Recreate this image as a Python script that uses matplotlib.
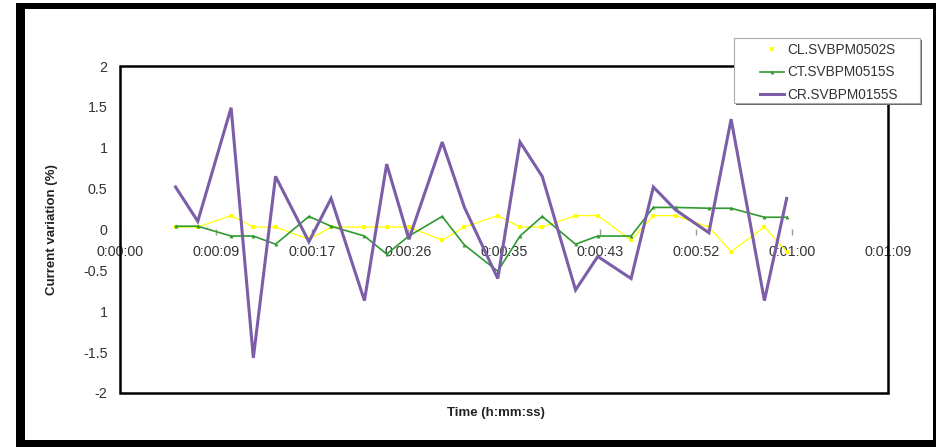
import matplotlib
matplotlib.use("Agg")
import matplotlib.pyplot as plt
from matplotlib.patches import Rectangle
from matplotlib.lines import Line2D

plt.rcParams['font.family'] = ['Liberation Sans', 'DejaVu Sans']

# ---------------- data ----------------
time_s = [5, 7, 10, 12, 14, 17, 19, 22, 24, 26, 29, 31, 34, 36, 38, 41,
          43, 46, 48, 50, 53, 55, 58, 60]
cl_0502 = [0.03, 0.03, 0.17, 0.03, 0.03, -0.12, 0.03, 0.03, 0.03, 0.03,
           -0.13, 0.03, 0.17, 0.03, 0.03, 0.17, 0.17, -0.13, 0.17, 0.17,
           0.03, -0.27, 0.03, -0.27]
ct_0515 = [0.04, 0.04, -0.08, -0.08, -0.18, 0.16, 0.04, -0.08, -0.30, -0.08,
           0.16, -0.19, -0.51, -0.08, 0.16, -0.18, -0.08, -0.08, 0.27, 0.27,
           0.26, 0.26, 0.15, 0.15]
cr_0155 = [0.52, 0.10, 1.49, -1.57, 0.65, -0.15, 0.38, -0.87, 0.80, -0.12,
           1.07, 0.27, -0.60, 1.07, 0.65, -0.74, -0.33, -0.60, 0.52, 0.24,
           -0.04, 1.35, -0.87, 0.38]
series_names = ['CL.SVBPM0502S', 'CT.SVBPM0515S', 'CR.SVBPM0155S']

x_tick_values = [0, 8.64, 17.28, 25.92, 34.56, 43.2, 51.84, 60.48, 69.12]
x_tick_labels = ['0:00:00', '0:00:09', '0:00:17', '0:00:26', '0:00:35',
                 '0:00:43', '0:00:52', '0:01:00', '0:01:09']
y_tick_values = [-2, -1.5, -1, -0.5, 0, 0.5, 1, 1.5, 2]
y_tick_labels = ['-2', '-1.5', '1', '-0.5', '0', '0.5', '1', '1.5', '2']

# ---------------- figure ----------------
W, H = 937, 447
fig = plt.figure(figsize=(W / 100, H / 100), dpi=100)
fig.patch.set_facecolor('white')


def fx(px):
    return px / W


def fy(py):
    return 1 - py / H


# outer black frame
for (x0, y0, x1, y1) in [(16, 3, 937, 9), (16, 3, 25, 447),
                         (933, 3, 937, 447), (16, 440, 937, 447)]:
    fig.add_artist(Rectangle((fx(x0), fy(y1)), fx(x1) - fx(x0), fy(y0) - fy(y1),
                             transform=fig.transFigure, facecolor='black',
                             edgecolor='none', zorder=0))

ax = fig.add_axes([fx(120), fy(393), fx(888) - fx(120), fy(66) - fy(393)])
ax.set_xlim(0, 69.12)
ax.set_ylim(-2, 2)

yellow = '#ffff00'
green = '#2f9a2f'
purple = '#7b5ea7'

ax.plot(time_s, cl_0502, color=yellow, lw=0.9, marker='s', markersize=3.2,
        markeredgewidth=0, zorder=3)
ax.plot(time_s, ct_0515, color=green, lw=1.2, marker='^', markersize=2.8,
        markeredgewidth=0, zorder=4)
ax.plot(time_s, cr_0155, color=purple, lw=2.2, solid_joinstyle='miter',
        zorder=5)

# axes styling
for side in ['left', 'right', 'top']:
    ax.spines[side].set_visible(False)
ax.spines['bottom'].set_position(('data', 0))
ax.spines['bottom'].set_color('none')
ax.add_patch(Rectangle((0, 0), 1, 1, transform=ax.transAxes, fill=False,
                       edgecolor='black', lw=1.8, clip_on=False, zorder=6))

ax.set_xticks(x_tick_values)
ax.set_xticklabels(x_tick_labels)
ax.set_yticks(y_tick_values)
ax.set_yticklabels(y_tick_labels)
ax.tick_params(axis='x', direction='out', length=4, width=1, color='#9a9a9a',
               pad=7, labelsize=10.3, labelcolor='#333333')
ax.tick_params(axis='y', length=0, pad=9, labelsize=10.3,
               labelcolor='#333333')

fig.text(fx(52), fy(230), 'Current variation (%)', rotation=90,
         ha='center', va='center', fontsize=9.5, fontweight='bold',
         color='#222222')
fig.text(fx(496), fy(413), 'Time (h:mm:ss)', ha='center', va='center',
         fontsize=9.5, fontweight='bold', color='#222222')

# legend box with shadow
fig.add_artist(Rectangle((fx(736), fy(105)), fx(922) - fx(736), fy(40) - fy(105),
                         transform=fig.transFigure, facecolor='#666666',
                         edgecolor='none', zorder=9))
fig.add_artist(Rectangle((fx(734), fy(103)), fx(920) - fx(734), fy(38) - fy(103),
                         transform=fig.transFigure, facecolor='white',
                         edgecolor='#aaaaaa', lw=0.8, zorder=10))
handles = [
    Line2D([], [], color=yellow, marker='s', markersize=3.2, markeredgewidth=0,
           linestyle='none'),
    Line2D([], [], color=green, lw=1.2, marker='^', markersize=2.8,
           markeredgewidth=0),
    Line2D([], [], color=purple, lw=2.2),
]
leg = fig.legend(handles, series_names, loc='upper left',
                 bbox_to_anchor=(fx(760), fy(43)), borderpad=0,
                 frameon=False, fontsize=9.8, handlelength=1.8,
                 handletextpad=0.2, labelspacing=0.62, borderaxespad=0)
leg.set_zorder(11)
for t in leg.get_texts():
    t.set_color('#333333')

fig.savefig('out.png', dpi=100)
